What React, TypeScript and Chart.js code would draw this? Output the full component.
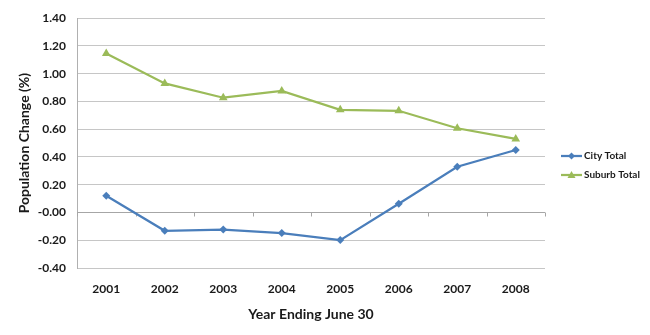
import React, { useEffect, useRef } from "react";
import { Chart, registerables } from "chart.js";

Chart.register(...registerables);

const years = ["2001", "2002", "2003", "2004", "2005", "2006", "2007", "2008"];
const cityTotal = [0.12, -0.132, -0.123, -0.148, -0.199, 0.063, 0.33, 0.45];
const suburbTotal = [1.145, 0.93, 0.827, 0.876, 0.74, 0.733, 0.607, 0.53];
const seriesLabels = ["City Total", "Suburb Total"];
const yTitle = "Population Change (%)";
const xTitle = "Year Ending June 30";

const BLUE = "#4A7EBB";
const GREEN = "#9BBB59";
const FONT = "Lato";

const zeroAxisPlugin = {
  id: "zeroAxis",
  beforeDatasetsDraw(chart: any) {
    const { ctx, scales, chartArea } = chart;
    const x = scales.x;
    const y = scales.y;
    const y0 = Math.round(y.getPixelForValue(0)) + 0.5;
    ctx.save();
    ctx.strokeStyle = "#a6a6a6";
    ctx.lineWidth = 1;
    ctx.beginPath();
    ctx.moveTo(chartArea.left, y0);
    ctx.lineTo(chartArea.right, y0);
    const n = x.ticks.length;
    const step = n > 1 ? x.getPixelForValue(1) - x.getPixelForValue(0) : chartArea.width;
    for (let i = 0; i <= n; i++) {
      const px = Math.round(x.getPixelForValue(0) - step / 2 + i * step) + 0.5;
      ctx.moveTo(px, y0);
      ctx.lineTo(px, y0 + 4);
    }
    ctx.stroke();
    ctx.restore();
  },
};

const legendPlugin = {
  id: "sideLegend",
  afterDraw(chart: any) {
    const { ctx } = chart;
    ctx.save();
    chart.data.datasets.forEach((ds: any, i: number) => {
      const yy = 156 + i * 19;
      ctx.strokeStyle = ds.borderColor;
      ctx.lineWidth = 2.25;
      ctx.beginPath();
      ctx.moveTo(561, yy);
      ctx.lineTo(582, yy);
      ctx.stroke();
      ctx.fillStyle = ds.borderColor;
      ctx.beginPath();
      if (ds.pointStyle === "triangle") {
        ctx.moveTo(571.5, yy - 4);
        ctx.lineTo(575.5, yy + 3);
        ctx.lineTo(567.5, yy + 3);
      } else {
        ctx.moveTo(571.5, yy - 3.5);
        ctx.lineTo(575, yy);
        ctx.lineTo(571.5, yy + 3.5);
        ctx.lineTo(568, yy);
      }
      ctx.closePath();
      ctx.fill();
      ctx.fillStyle = "#1a1a1a";
      ctx.font = `bold 10px ${FONT}`;
      ctx.textBaseline = "middle";
      ctx.textAlign = "left";
      ctx.fillText(ds.label, 584, yy);
    });
    ctx.restore();
  },
};

export default function App() {
  const ref = useRef<HTMLCanvasElement | null>(null);

  useEffect(() => {
    document.body.style.margin = "0";
    const canvas = ref.current;
    if (!canvas) return;
    const chart = new Chart(canvas, {
      type: "line",
      data: {
        labels: years,
        datasets: [
          {
            label: seriesLabels[0],
            data: cityTotal,
            borderColor: BLUE,
            backgroundColor: BLUE,
            borderWidth: 2.25,
            pointStyle: "rectRot",
            pointRadius: 4,
            pointHoverRadius: 4,
            pointBorderWidth: 0,
            tension: 0,
          },
          {
            label: seriesLabels[1],
            data: suburbTotal,
            borderColor: GREEN,
            backgroundColor: GREEN,
            borderWidth: 2.25,
            pointStyle: "triangle",
            pointRadius: 5,
            pointHoverRadius: 5,
            pointBorderWidth: 0,
            tension: 0,
          },
        ],
      },
      options: {
        responsive: false,
        animation: false,
        devicePixelRatio: 1,
        layout: { padding: { top: 9, right: 105, bottom: 0, left: 0 } },
        plugins: {
          legend: { display: false },
          tooltip: { enabled: false },
        },
        scales: {
          x: {
            offset: true,
            grid: { display: false, drawTicks: false },
            border: { display: false },
            ticks: {
              color: "#1a1a1a",
              font: { family: FONT, weight: "bold", size: 12 },
              padding: 14,
              maxRotation: 0,
            },
            title: {
              display: true,
              text: xTitle,
              color: "#1a1a1a",
              font: { family: FONT, weight: "bold", size: 14 },
              padding: { top: 0, bottom: 12 },
            },
            afterFit(scale: any) {
              scale.height = 67;
            },
          },
          y: {
            min: -0.4,
            max: 1.4,
            grid: { color: "#c6c6c6", drawTicks: false, lineWidth: 1 },
            border: { display: true, color: "#b0b0b0" },
            ticks: {
              stepSize: 0.2,
              color: "#1a1a1a",
              font: { family: FONT, weight: "bold", size: 12 },
              padding: 11,
              callback: (v: any) => Number(v).toFixed(2),
            },
            title: {
              display: true,
              text: yTitle,
              color: "#1a1a1a",
              font: { family: FONT, weight: "bold", size: 14 },
              padding: { top: 16, bottom: 0 },
            },
            afterFit(scale: any) {
              scale.width = 77;
            },
          },
        },
      },
      plugins: [zeroAxisPlugin, legendPlugin],
    });
    return () => chart.destroy();
  }, []);

  return <canvas ref={ref} width={650} height={335} style={{ display: "block" }} />;
}
